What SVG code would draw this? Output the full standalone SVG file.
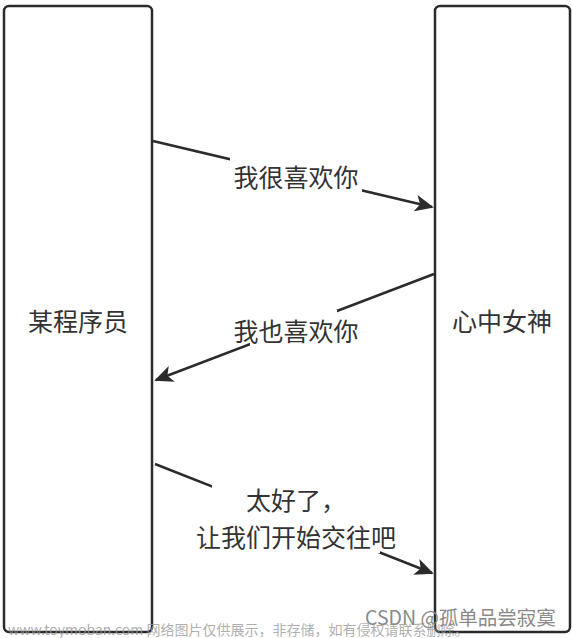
<svg xmlns="http://www.w3.org/2000/svg" width="572" height="638" viewBox="0 0 572 638">
<style>
.box{fill:#fff;stroke:#2b2b2b;stroke-width:2.5}
.lbl{font-family:"Noto Sans CJK SC","Noto Sans",sans-serif;font-size:25px;fill:#333;text-anchor:middle;dominant-baseline:central}
.edge{stroke:#2b2b2b;stroke-width:2.5;fill:none}
.mask{fill:#fff}
.wm{font-family:"Noto Sans CJK SC","Liberation Sans",sans-serif;fill:#999;dominant-baseline:central}
</style>
<defs>
<marker id="arr" viewBox="0 0 10 10" refX="9" refY="5" markerWidth="7.5" markerHeight="7.5" orient="auto" markerUnits="strokeWidth">
<path d="M0,0.5 L10,5 L0,9.5 L2.5,5 z" fill="#2b2b2b"/>
</marker>
</defs>
<g id="node-programmer">
<rect class="box" x="4" y="6" width="148" height="626" rx="5"/>
<text class="lbl" x="78" y="320">某程序员</text>
</g>
<g id="node-goddess">
<rect class="box" x="435" y="6" width="135" height="626" rx="5"/>
<text class="lbl" x="502" y="320">心中女神</text>
</g>
<g id="connectors">
<g id="edge1">
<line class="edge" x1="153" y1="141" x2="432" y2="207" marker-end="url(#arr)"/>
<rect class="mask" x="230" y="156" width="132" height="40"/>
<text class="lbl" x="296" y="176">我很喜欢你</text>
</g>
<g id="edge2">
<line class="edge" x1="434" y1="274" x2="156" y2="380" marker-end="url(#arr)"/>
<rect class="mask" x="250" y="310" width="87" height="38"/>
<text class="lbl" x="296" y="330">我也喜欢你</text>
</g>
<g id="edge3">
<line class="edge" x1="155" y1="464" x2="432" y2="573" marker-end="url(#arr)"/>
<rect class="mask" x="212" y="485" width="168" height="68"/>
<text class="lbl" x="296" y="499">太好了，</text>
<text class="lbl" x="296" y="536">让我们开始交往吧</text>
</g>
</g>
<g id="watermark">
<text class="wm" x="8" y="629" font-size="14" fill-opacity="0.8">www.toymoban.com 网络图片仅供展示，非存储，如有侵权请联系删除。</text>
<text class="wm" x="365" y="616" font-size="19.5" style="fill:#8a8a8a">CSDN @孤单品尝寂寞</text>
</g>
</svg>
